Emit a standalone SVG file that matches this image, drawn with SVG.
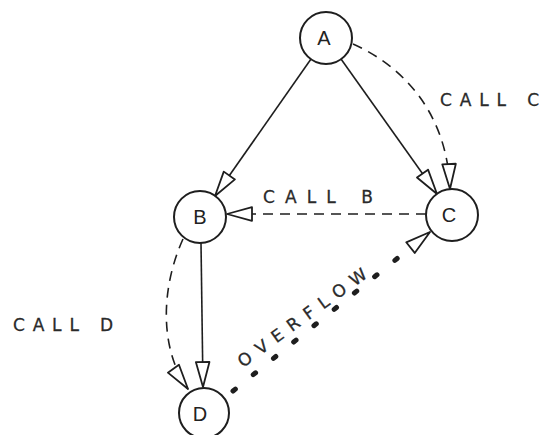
<svg xmlns="http://www.w3.org/2000/svg" width="541" height="435" viewBox="0 0 541 435">
  <style>
    .node circle { fill: #fff; stroke: #1e1e1e; stroke-width: 2; }
    .node text { font-family: "Liberation Sans", "DejaVu Sans", sans-serif; font-size: 20px; fill: #222; text-anchor: middle; }
    .label { font-family: "DejaVu Sans", "Liberation Sans", sans-serif; font-size: 17px; fill: #2a2a2a; stroke: #2a2a2a; stroke-width: 0.3; }
    .edge { fill: none; stroke: #1e1e1e; stroke-width: 1.6; }
    .dashed { stroke-dasharray: 10 7; }
    .dotted { stroke-width: 5; stroke-linecap: round; stroke-dasharray: 3 23; }
  </style>
  <defs>
    <!-- open, elongated triangle head; tip sits on the target circle -->
    <marker id="head" markerUnits="userSpaceOnUse" markerWidth="30" markerHeight="16" refX="27" refY="8" orient="auto" overflow="visible">
      <path d="M27,8 L2,1.2 L2,14.8 Z" fill="#fff" stroke="#1e1e1e" stroke-width="1.8" stroke-linejoin="round"/>
    </marker>
  </defs>

  <rect width="541" height="435" fill="#fff"/>

  <g id="connectors">
    <!-- A to B, A to C (solid) -->
    <path class="edge" d="M311,59 L215,196" marker-end="url(#head)"/>
    <path class="edge" d="M341,59 L437,194" marker-end="url(#head)"/>
    <!-- CALL C -->
    <path class="edge dashed" d="M353,44 C400,65 447,110 450,189" marker-end="url(#head)"/>
    <!-- CALL B -->
    <path class="edge dashed" d="M426,214 L227,214" marker-end="url(#head)"/>
    <!-- B to D (solid) -->
    <path class="edge" d="M201,243 L203,387" marker-end="url(#head)"/>
    <!-- CALL D -->
    <path class="edge dashed" d="M183,239 C160,290 160,350 188,389" marker-end="url(#head)"/>
    <!-- OVERFLOW -->
    <path class="edge dotted" d="M233,391 L430,232"/>
    <path class="edge" d="M415,244 L430,232" marker-end="url(#head)" stroke="none"/>
  </g>

  <g id="labels">
    <text class="label" x="440" y="106" textLength="99" lengthAdjust="spacing">CALL C</text>
    <text class="label" x="263" y="203" textLength="110" lengthAdjust="spacing">CALL B</text>
    <text class="label" x="13" y="331" textLength="100" lengthAdjust="spacing">CALL D</text>
    <text class="label" x="243" y="368" transform="rotate(-36 243 368)" textLength="155" lengthAdjust="spacing">OVERFLOW</text>
  </g>

  <g id="node-A" class="node">
    <circle cx="326" cy="38" r="26"/>
    <text x="324" y="45">A</text>
  </g>
  <g id="node-B" class="node">
    <circle cx="200" cy="217" r="26"/>
    <text x="200" y="224">B</text>
  </g>
  <g id="node-C" class="node">
    <circle cx="452" cy="215" r="26"/>
    <text x="449" y="222">C</text>
  </g>
  <g id="node-D" class="node">
    <circle cx="204" cy="413" r="25"/>
    <text x="200" y="421">D</text>
  </g>
</svg>
